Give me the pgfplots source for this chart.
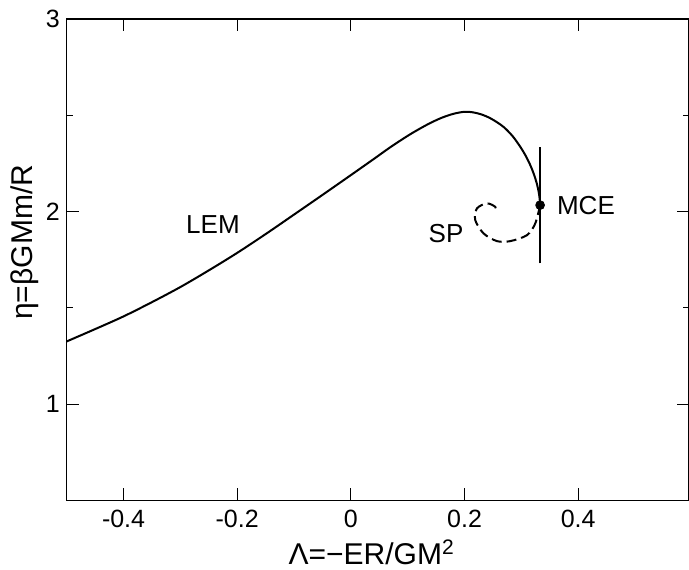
\documentclass[border=0pt]{standalone}
\usepackage{fontspec}
\setmainfont{Liberation Sans}
\usepackage{pgfplots}
\pgfplotsset{compat=1.18}
\begin{document}
\begin{tikzpicture}
\begin{axis}[
  name=ax,
  scale only axis,
  width=311pt, height=240.5pt,
  xmin=-0.5, xmax=0.595, ymin=0.5, ymax=3,
  xtick={-0.4,-0.2,0,0.2,0.4},
  xticklabels={-0.4,-0.2,0,0.2,0.4},
  ytick={1,2,3}, yticklabels={1,2,3},
  minor ytick={1.5,2.5},
  major tick length=6pt, minor tick length=3pt,
  tick style={black, line width=0.4pt},
  axis line style={line width=0.6pt},
  xticklabel style={font=\fontsize{12.5}{15}\selectfont, anchor=base, inner sep=0pt, yshift=-13.6pt},
  yticklabel style={font=\fontsize{12.5}{15}\selectfont, anchor=east, inner sep=0pt, xshift=-3.3pt},
  xlabel={Λ=−ER/GM\textsuperscript{2}},
  ylabel={η=βGMm/R},
  xlabel style={font=\fontsize{15}{18}\selectfont, at={(axis description cs:0.49,0)}, anchor=base, inner sep=0pt, yshift=-32.3pt},
  ylabel style={font=\fontsize{15}{18}\selectfont, at={(axis description cs:-0.067,0.536)}, anchor=center},
]
\addplot[black, line width=1pt, smooth] coordinates {
(-0.5,1.325) (-0.45,1.389) (-0.4,1.455) (-0.35,1.529) (-0.3,1.6075) (-0.25,1.694)
(-0.2,1.785) (-0.15,1.8825) (-0.1,1.984) (-0.05,2.086) (0,2.189) (0.04,2.272)
(0.07,2.335) (0.1,2.393) (0.12,2.428) (0.14,2.460) (0.16,2.487) (0.18,2.507)
(0.2,2.518) (0.215,2.515) (0.23,2.504) (0.245,2.485) (0.258,2.462)
(0.27,2.436) (0.285,2.39) (0.2981,2.336) (0.3075,2.29) (0.3157,2.241)
(0.3225,2.19) (0.3271,2.146) (0.3306,2.10) (0.3322,2.065) (0.333,2.033)
};
\addplot[black, line width=1pt, smooth, dash pattern=on 5pt off 2.5pt] coordinates {
(0.333,2.033) (0.3245,1.938) (0.3099,1.877) (0.2805,1.846) (0.2571,1.846)
(0.2335,1.886) (0.2189,1.955) (0.2219,2.016) (0.2395,2.042) (0.2541,2.024)
(0.2558,1.998)
};
\addplot[black, line width=1pt] coordinates {(0.333,1.730) (0.333,2.336)};
\addplot[only marks, mark=*, mark size=2.2pt, black] coordinates {(0.333,2.033)};
\node[font=\fontsize{13}{15}\selectfont] at (axis cs:-0.2427,1.932) {LEM};
\node[font=\fontsize{13}{15}\selectfont] at (axis cs:0.1675,1.883) {SP};
\node[font=\fontsize{13}{15}\selectfont] at (axis cs:0.4137,2.030) {MCE};
\end{axis}
\pgfresetboundingbox
\path ([xshift=-33.35pt,yshift=-34.75pt]ax.south west) rectangle ([yshift=9.5pt]ax.north east);
\end{tikzpicture}
\end{document}
